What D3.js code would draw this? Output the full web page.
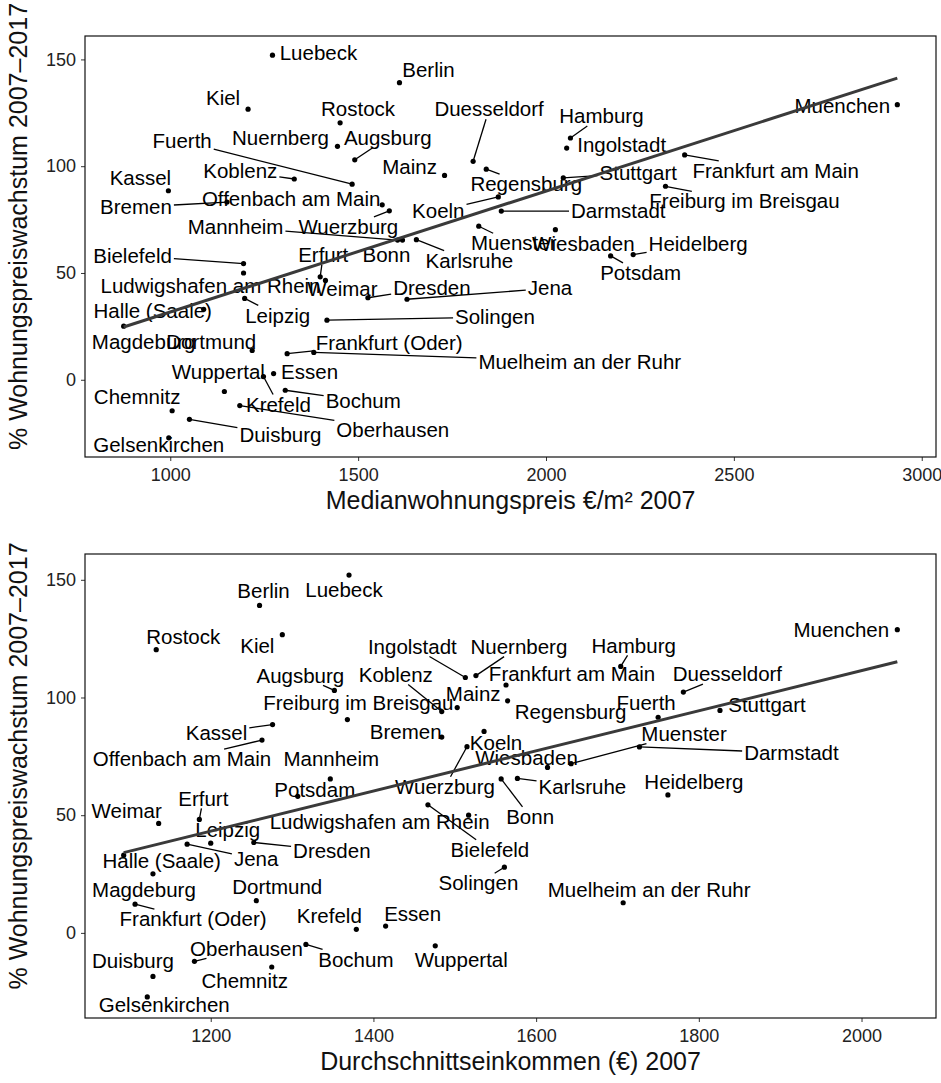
<!DOCTYPE html>
<html>
<head>
<meta charset="utf-8">
<script src="https://cdn.jsdelivr.net/npm/d3@7/dist/d3.min.js"></script>
<style>
  body { margin: 0; background: #fff; }
  text { font-family: "Liberation Sans", Arial, Helvetica, sans-serif; }
</style>
</head>
<body>
<svg id="chart" width="941" height="1083"></svg>
<script>
// --- data ---
const cities = ["Luebeck","Berlin","Kiel","Rostock","Nuernberg","Augsburg","Mainz","Duesseldorf","Regensburg","Koblenz",
  "Fuerth","Kassel","Bremen","Offenbach am Main","Wuerzburg","Koeln","Darmstadt","Muenster","Wiesbaden","Muenchen",
  "Hamburg","Ingolstadt","Stuttgart","Frankfurt am Main","Freiburg im Breisgau","Potsdam","Heidelberg","Karlsruhe","Bonn","Mannheim",
  "Bielefeld","Muelheim an der Ruhr","Solingen","Dortmund","Frankfurt (Oder)","Essen","Krefeld","Wuppertal","Bochum","Oberhausen",
  "Chemnitz","Duisburg","Gelsenkirchen","Halle (Saale)","Magdeburg","Dresden","Jena","Weimar","Erfurt","Ludwigshafen am Rhein","Leipzig"];
// % Wohnungspreiswachstum 2007-2017
const growth = [152.0,139.1,126.7,120.3,109.3,103.0,95.7,102.3,98.6,94.0,
  91.6,88.5,83.2,81.9,79.1,85.6,79.0,71.9,70.3,128.8,
  113.2,108.5,94.5,105.3,90.6,58.0,58.6,65.6,65.4,65.4,
  54.4,12.8,27.9,13.7,12.2,2.9,1.5,-5.5,-4.9,-12.1,
  -14.5,-18.5,-27.2,33.0,25.1,38.4,37.7,46.5,48.2,50.0,38.1];
// Medianwohnungspreis EUR/m2 2007
const price2007 = [1272,1610,1207,1452,1445,1491,1730,1806,1841,1330,
  1484,995,1151,1564,1583,1873,1881,1821,2025,2935,
  2065,2055,2046,2369,2318,2172,2232,1655,1618,1605,
  1195,1382,1417,1218,1311,1275,1248,1144,1306,1185,
  1005,1051,996,1089,876,1526,1630,1413,1399,1195,1198];
// Durchschnittseinkommen EUR 2007
const income2007 = [1370,1260,1288,1133,1526,1352,1503,1781,1565,1484,
  1750,1276,1484,1263,1515,1536,1727,1643,1614,2044,
  1704,1513,1826,1563,1368,1307,1762,1577,1557,1347,
  1467,1707,1561,1256,1107,1415,1379,1476,1317,1180,
  1275,1129,1122,1093,1129,1253,1171,1136,1186,1517,1200];

const growthTicks = [0, 50, 100, 150];
const priceTicks = [1000, 1500, 2000, 2500, 3000];
const incomeTicks = [1200, 1400, 1600, 1800, 2000];

// label placement (pixel offset of label centre from its point), as repelled in the original
const nudgeTop = {
  "Luebeck":[46,-2],"Berlin":[29,-13],"Kiel":[-25,-11],"Rostock":[18,-14],"Nuernberg":[-57,-9],"Augsburg":[33,-22],
  "Mainz":[-35,-9],"Duesseldorf":[16,-52],"Regensburg":[40,15],"Koblenz":[-54,-8],"Fuerth":[-170,-43],"Kassel":[-28,-13],
  "Bremen":[-91,5],"Offenbach am Main":[-91,-6],"Wuerzburg":[-41,16],"Koeln":[-60,14],"Darmstadt":[117,0],"Muenster":[35,17],
  "Wiesbaden":[28,14],"Muenchen":[-55,1],"Hamburg":[31,-22],"Ingolstadt":[55,-3],"Stuttgart":[75,-5],"Frankfurt am Main":[91,16],
  "Freiburg im Breisgau":[79,15],"Potsdam":[30,17],"Heidelberg":[65,-11],"Karlsruhe":[53,21],"Bonn":[-16,15],"Mannheim":[-162,-13],
  "Bielefeld":[-111,-8],"Muelheim an der Ruhr":[266,9],"Solingen":[168,-3],"Dortmund":[-41,-9],"Frankfurt (Oder)":[102,-11],
  "Essen":[36,-2],"Krefeld":[15,28],"Wuppertal":[-6,-20],"Bochum":[78,11],"Oberhausen":[153,24],"Chemnitz":[-35,-14],
  "Duisburg":[91,16],"Gelsenkirchen":[-10,7],"Halle (Saale)":[-51,2],"Magdeburg":[20,16],"Dresden":[64,-10],"Jena":[143,-11],
  "Weimar":[17,8],"Erfurt":[3,-22],"Ludwigshafen am Rhein":[-33,13],"Leipzig":[33,17]
};
const nudgeBottom = {
  "Luebeck":[-5,15],"Berlin":[4,-15],"Kiel":[-25,11],"Rostock":[27,-13],"Nuernberg":[43,-29],"Augsburg":[-34,-15],
  "Mainz":[16,-14],"Duesseldorf":[44,-18],"Regensburg":[63,11],"Koblenz":[-46,-37],"Fuerth":[-12,-14],"Kassel":[-56,8],
  "Bremen":[-36,-5],"Offenbach am Main":[-80,19],"Wuerzburg":[-22,40],"Koeln":[12,11],"Darmstadt":[152,6],"Muenster":[113,-30],
  "Wiesbaden":[-21,-10],"Muenchen":[-56,0],"Hamburg":[13,-21],"Ingolstadt":[-53,-31],"Stuttgart":[47,-6],"Frankfurt am Main":[66,-11],
  "Freiburg im Breisgau":[11,-17],"Potsdam":[17,-7],"Heidelberg":[26,-13],"Karlsruhe":[65,8],"Bonn":[29,38],"Mannheim":[1,-20],
  "Bielefeld":[62,45],"Muelheim an der Ruhr":[26,-13],"Solingen":[-26,16],"Dortmund":[21,-14],"Frankfurt (Oder)":[58,15],
  "Essen":[27,-12],"Krefeld":[-27,-14],"Wuppertal":[26,14],"Bochum":[50,15],"Oberhausen":[52,-13],"Chemnitz":[-27,14],
  "Duisburg":[-20,-16],"Gelsenkirchen":[17,8],"Halle (Saale)":[38,6],"Magdeburg":[-9,16],"Dresden":[78,8],"Jena":[69,15],
  "Weimar":[-32,-13],"Erfurt":[4,-21],"Ludwigshafen am Rhein":[-89,7],"Leipzig":[17,-13]
};

const svg = d3.select('#chart');
const yTitle = '% Wohnungspreiswachstum 2007\u20132017';

// ggplot-like 5% expansion
function expand(ext) {
  const pad = (ext[1] - ext[0]) * 0.05;
  return [ext[0] - pad, ext[1] + pad];
}

function linreg(xs, ys) {
  const mx = d3.mean(xs), my = d3.mean(ys);
  let sxy = 0, sxx = 0;
  xs.forEach((x, i) => { sxy += (x - mx) * (ys[i] - my); sxx += (x - mx) * (x - mx); });
  const b = sxy / sxx;
  return { a: my - b * mx, b: b };
}

function drawPanel(o) {
  const xs = o.xValues;
  const data = cities.map((c, i) => ({ name: c, x: xs[i], y: growth[i] }));
  const x = d3.scaleLinear().domain(expand(d3.extent(xs))).range([o.left, o.right]);
  const y = d3.scaleLinear().domain(expand(d3.extent(growth))).range([o.bottom, o.top]);
  const g = svg.append('g');

  // axes
  const ax = g.append('g').attr('transform', `translate(0,${o.bottom})`)
    .call(d3.axisBottom(x).tickValues(o.xTicks).tickSize(4).tickPadding(7).tickFormat(d3.format('d')));
  const ay = g.append('g').attr('transform', `translate(${o.left},0)`)
    .call(d3.axisLeft(y).tickValues(growthTicks).tickSize(4).tickPadding(5));
  [ax, ay].forEach(a => {
    a.select('.domain').remove();
    a.selectAll('line').attr('stroke', '#333');
    a.selectAll('text').attr('fill', '#222').style('font-size', '18px');
  });

  g.append('rect')
    .attr('x', o.left).attr('y', o.top)
    .attr('width', o.right - o.left).attr('height', o.bottom - o.top)
    .attr('fill', 'none').attr('stroke', '#111').attr('stroke-width', 1.2);

  g.append('text')
    .attr('x', (o.left + o.right) / 2).attr('y', o.bottom + 52)
    .attr('text-anchor', 'middle').style('font-size', '25px').attr('fill', '#111')
    .text(o.xTitle);
  g.append('text')
    .attr('transform', `translate(18,${(o.top + o.bottom) / 2 - 20}) rotate(-90)`)
    .attr('text-anchor', 'middle').attr('dy', '0.35em').style('font-size', '25px').attr('fill', '#111')
    .text(yTitle);

  // points
  g.append('g').selectAll('circle').data(data).join('circle')
    .attr('cx', d => x(d.x)).attr('cy', d => y(d.y)).attr('r', 2.6).attr('fill', '#000');

  // labels
  const lab = g.append('g');
  const segs = g.append('g');
  data.forEach(d => {
    const n = o.nudge[d.name] || [0, -14];
    const px = x(d.x), py = y(d.y);
    const cx = px + n[0], cy = py + n[1];
    const t = lab.append('text')
      .attr('x', cx).attr('y', cy).attr('dy', '0.35em')
      .attr('text-anchor', 'middle').style('font-size', '20.5px').attr('fill', '#000')
      .text(d.name);
    const hw = t.node().getComputedTextLength() / 2 + 2, hh = 10;
    // segment from point to label box edge
    const dx = px - cx, dy = py - cy;
    const s = Math.min(Math.abs(dx) > 0 ? hw / Math.abs(dx) : Infinity,
                       Math.abs(dy) > 0 ? hh / Math.abs(dy) : Infinity);
    if (s >= 1) return;
    const ex = cx + dx * s, ey = cy + dy * s;
    if (Math.hypot(px - ex, py - ey) < 11) return;
    segs.append('line')
      .attr('x1', px).attr('y1', py).attr('x2', ex).attr('y2', ey)
      .attr('stroke', '#000').attr('stroke-width', 1.3);
  });

  // linear fit
  const fit = linreg(xs, growth);
  const ext = d3.extent(xs);
  g.append('path')
    .datum(ext)
    .attr('d', d3.line().x(v => x(v)).y(v => y(fit.a + fit.b * v)))
    .attr('stroke', '#3a3a3a').attr('stroke-width', 3).attr('fill', 'none');
}

drawPanel({ xValues: price2007, xTicks: priceTicks, nudge: nudgeTop,
  left: 85, right: 936, top: 36, bottom: 457, xTitle: 'Medianwohnungspreis \u20AC/m\u00B2 2007' });
drawPanel({ xValues: income2007, xTicks: incomeTicks, nudge: nudgeBottom,
  left: 85, right: 936, top: 554, bottom: 1018, xTitle: 'Durchschnittseinkommen (\u20AC) 2007' });
</script>
</body>
</html>
